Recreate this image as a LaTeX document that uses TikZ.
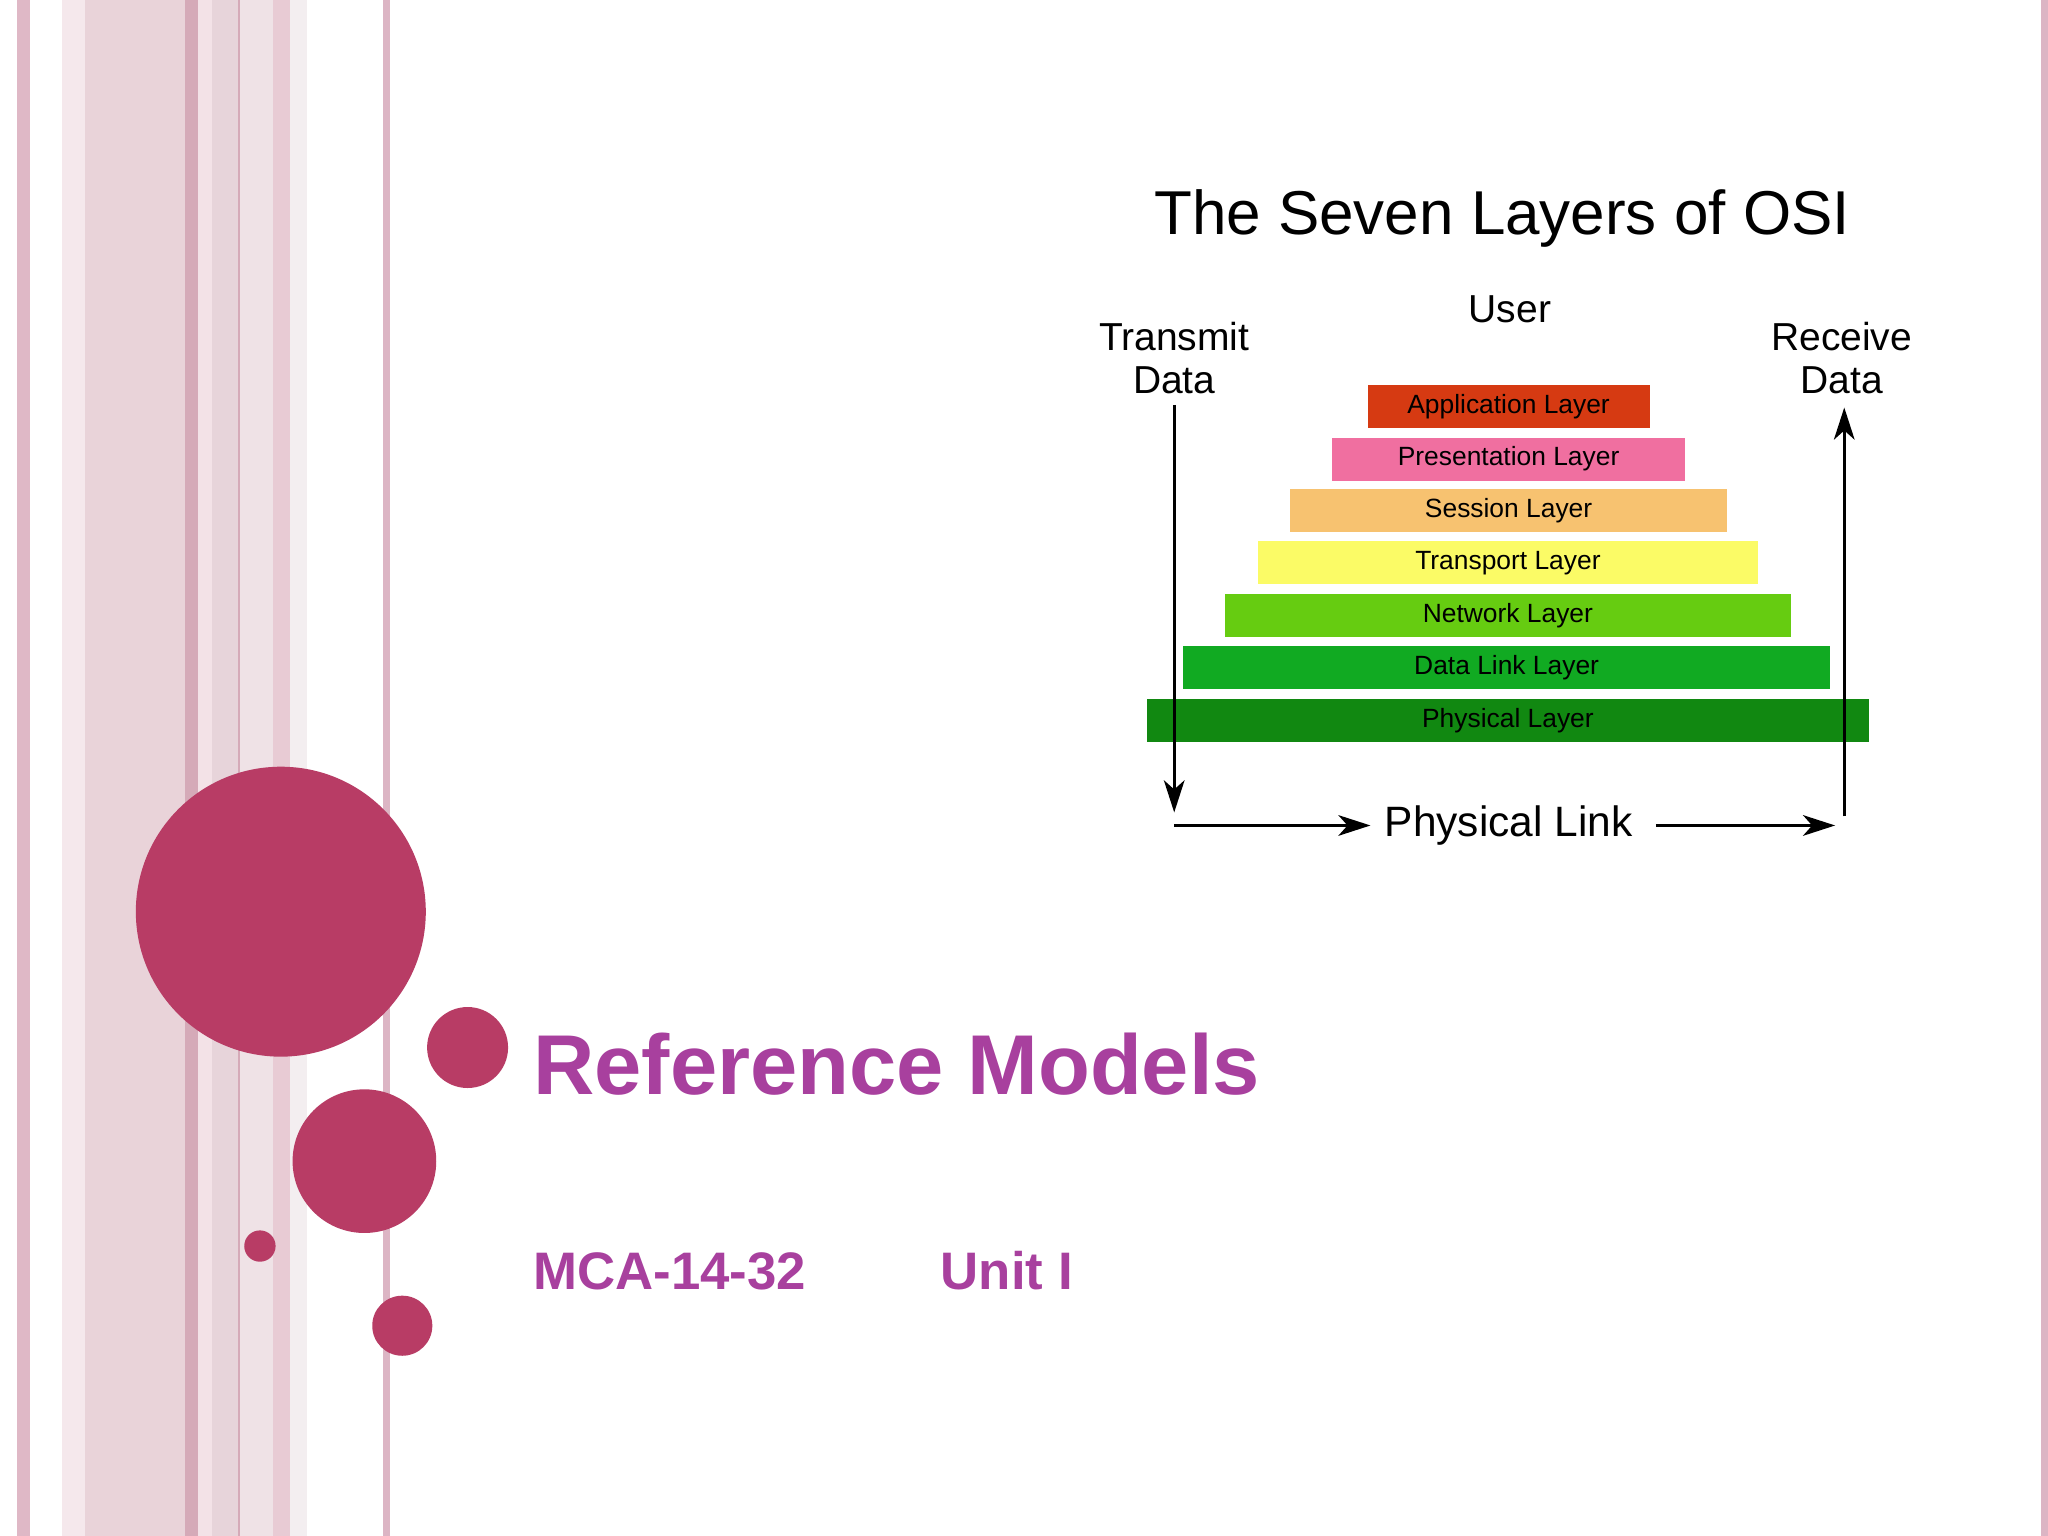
\documentclass[tikz,border=0pt]{standalone}
\usepackage{fontspec}
\setmainfont{Liberation Sans}
\usetikzlibrary{arrows.meta}
\definecolor{dot}{HTML}{B83C65}
\definecolor{ttl}{HTML}{A8409E}
\definecolor{s0}{HTML}{DFB8C6}
\definecolor{s1}{HTML}{F5E8EC}\definecolor{s2}{HTML}{E9D3D9}\definecolor{s3}{HTML}{D5AAB8}
\definecolor{s4}{HTML}{F3E2E7}\definecolor{s5}{HTML}{E7D4DA}\definecolor{s6}{HTML}{EFE2E6}
\definecolor{s7}{HTML}{E8CBD4}\definecolor{s8}{HTML}{F3EEF0}\definecolor{s9}{HTML}{DCB5C4}
\definecolor{l1}{HTML}{D63A12}\definecolor{l2}{HTML}{F06FA0}\definecolor{l3}{HTML}{F7C270}
\definecolor{l4}{HTML}{FBFB66}\definecolor{l5}{HTML}{66CC11}\definecolor{l6}{HTML}{11AA22}
\definecolor{l7}{HTML}{118811}
\tikzset{
  layer/.style={draw=none,minimum height=0.66cm,inner sep=0pt,font=\fontsize{11.5}{14}\selectfont},
  lbl/.style={align=center,font=\fontsize{17}{17}\selectfont,inner sep=0pt},
  arr/.style={-{Stealth[length=14pt,width=9pt,inset=4pt]},line width=1.3pt}
}
\begin{document}
\begin{tikzpicture}[x=0.02cm,y=-0.02cm]
\useasboundingbox (0,0) rectangle (1568,1176);
\fill[white] (0,0) rectangle (1568,1176);
% stripes
\fill[s0] (13,0) rectangle (23,1176);
\fill[s1] (47.5,0) rectangle (65,1176);
\fill[s2] (65,0) rectangle (141.7,1176);
\fill[s3] (141.7,0) rectangle (151.6,1176);
\fill[s4] (151.6,0) rectangle (162.3,1176);
\fill[s5] (162.3,0) rectangle (182.2,1176);
\fill[s3] (182.2,0) rectangle (183.8,1176);
\fill[s6] (183.8,0) rectangle (209,1176);
\fill[s7] (209,0) rectangle (222,1176);
\fill[s8] (222,0) rectangle (235,1176);
\fill[s9] (293,0) rectangle (298.6,1176);
\fill[s9] (1563,0) rectangle (1568,1176);
% circles
\fill[dot] (215,698) circle (111);
\fill[dot] (358,802) circle (31);
\fill[dot] (279,889) circle (55);
\fill[dot] (199,954) circle (12);
\fill[dot] (308,1015) circle (23);
% titles
\node[anchor=west,text=ttl,font=\bfseries\fontsize{37}{40}\selectfont,inner sep=0pt] (title) at (408,815) {Reference Models};
\node[anchor=west,text=ttl,font=\bfseries\fontsize{23}{26}\selectfont,inner sep=0pt] (code) at (408,973) {MCA-14-32};
\node[anchor=west,text=ttl,font=\bfseries\fontsize{23}{26}\selectfont,inner sep=0pt] (unit) at (720,973) {Unit I};
% OSI diagram
\node[font=\fontsize{27}{30}\selectfont,inner sep=0pt] (osi) at (1150,167) {The Seven Layers of OSI};
\node[lbl] (user) at (1156,237) {User};
\node[lbl] (tx) at (899,274) {Transmit\\[2pt]Data};
\node[lbl] (rx) at (1410,274) {Receive\\[2pt]Data};
\node[layer,fill=l1,minimum width=216*0.02cm] (app) at (1155,311.5) {Application Layer};
\node[layer,fill=l2,minimum width=270*0.02cm] (pre) at (1155,351.5) {Presentation Layer};
\node[layer,fill=l3,minimum width=334*0.02cm] (ses) at (1155,391) {Session Layer};
\node[layer,fill=l4,minimum width=383*0.02cm] (tra) at (1154.5,431) {Transport Layer};
\node[layer,fill=l5,minimum width=433*0.02cm] (net) at (1154.5,471) {Network Layer};
\node[layer,fill=l6,minimum width=495*0.02cm] (dl) at (1153.5,511) {Data Link Layer};
\node[layer,fill=l7,minimum width=553*0.02cm] (phy) at (1154.5,551.5) {Physical Layer};
\node[font=\fontsize{18.5}{22}\selectfont,inner sep=0pt] (pl) at (1155,632) {Physical Link};
\coordinate (txt) at (899,310);
\coordinate (txb) at (899,622);
\coordinate (rxb) at (1412,625);
\coordinate (rxt) at (1412,312);
\coordinate (hl) at (899,632);
\coordinate (hr) at (1405,632);
\draw[arr] (txt) -- (txb);
\draw[arr] (rxb) -- (rxt);
\draw[arr] (hl) -- ([xshift=-6pt]pl.west);
\draw[arr] ([xshift=10pt]pl.east) -- (hr);
\end{tikzpicture}
\end{document}
